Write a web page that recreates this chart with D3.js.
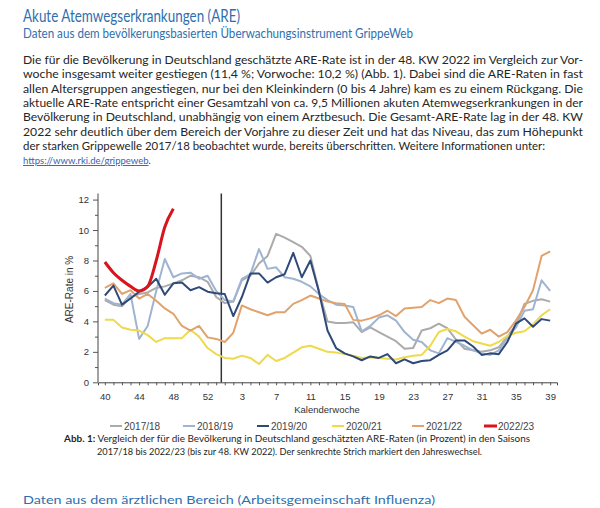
<!DOCTYPE html>
<html>
<head>
<meta charset="utf-8">
<script src="https://cdn.jsdelivr.net/npm/d3@7"></script>
<style>
  body { margin: 0; background: #fff; }
  svg { display: block; }
</style>
</head>
<body>
<div id="run"></div>
<script>
var width = 600,
    height = 508;

// Kalenderwochen 40..53, 1..39
var weeks = [40, 41, 42, 43, 44, 45, 46, 47, 48, 49, 50, 51, 52, 53,
  1, 2, 3, 4, 5, 6, 7, 8, 9, 10, 11, 12, 13, 14, 15, 16, 17, 18, 19, 20,
  21, 22, 23, 24, 25, 26, 27, 28, 29, 30, 31, 32, 33, 34, 35, 36, 37, 38, 39];

var tickWeeks = [40, 44, 48, 52, 3, 7, 11, 15, 19, 23, 27, 31, 35, 39];
var yTicks = [0, 2, 4, 6, 8, 10, 12];

var s1718 = [5.4, 5.1, 5.0, 5.6, 5.8, 5.9, 6.2, 6.3, 6.5, 6.7, 7.0, 6.9, 6.6, 5.6,
  5.2, 5.3, 6.7, 7.0, 7.8, 8.3, 9.75, 9.5, 9.2, 8.9, 8.3, 6.0, 4.0, 3.9, 3.9, 3.95,
  3.3, 3.6, 3.3, 3.0, 2.7, 2.2, 2.25, 3.4, 3.55, 3.85, 3.55, 2.8, 2.2, 2.1, 2.0,
  2.1, 2.3, 3.0, 3.75, 5.15, 5.35, 5.45, 5.3];
var s1819 = [5.5, 5.2, 5.1, 5.8, 2.85, 3.7, 6.0, 8.1, 6.9, 7.15, 7.2, 6.8, 7.0, 6.0,
  5.4, 5.3, 6.8, 7.1, 8.75, 7.45, 7.55, 6.9, 6.8, 6.6, 6.3, 5.8, 5.4, 5.1, 5.05, 4.95,
  3.35, 3.7, 4.25, 4.4, 4.05, 3.3, 2.8, 2.65, 2.1, 1.9, 2.9, 2.65, 2.4, 2.1, 1.9,
  1.8, 2.1, 2.9, 3.6, 4.7, 4.8, 6.7, 6.0];
var s1920 = [5.7, 6.35, 5.1, 5.5, 5.95, 6.25, 6.8, 5.75, 6.5, 6.55, 6.05, 6.25, 5.95, 5.85,
  5.8, 4.35, 5.6, 7.15, 7.15, 6.55, 6.9, 7.1, 8.5, 6.9, 8.0, 5.95, 3.4, 2.25, 1.9, 1.7,
  1.45, 1.7, 1.6, 1.85, 1.25, 1.5, 1.25, 1.4, 1.45, 1.8, 2.1, 2.75, 2.75, 2.35, 1.8,
  1.9, 1.85, 2.65, 3.85, 4.2, 3.65, 4.15, 4.05];
var s2021 = [4.1, 4.1, 3.6, 3.45, 3.4, 3.1, 2.65, 2.9, 2.9, 2.9, 3.45, 3.0, 2.25, 1.85,
  1.6, 1.55, 1.75, 1.6, 1.2, 1.8, 1.4, 1.6, 1.95, 2.3, 2.4, 2.2, 2.0, 1.95, 1.85, 1.75,
  1.6, 1.65, 1.6, 1.55, 1.5, 1.65, 1.75, 1.8, 2.4, 3.3, 3.5, 3.35, 3.0, 2.7, 2.55,
  2.4, 2.65, 3.05, 3.25, 3.35, 3.8, 4.4, 4.8];
var s2122 = [6.2, 6.5, 5.8, 6.05, 5.5, 5.8, 5.35, 4.85, 4.5, 3.7, 3.4, 3.7, 2.95, 2.85,
  2.65, 3.25, 5.05, 4.8, 4.6, 4.4, 4.6, 4.6, 5.15, 5.4, 5.7, 5.5, 5.3, 5.2, 5.15, 4.1,
  4.05, 4.2, 4.4, 4.7, 4.35, 4.85, 4.9, 4.95, 5.4, 5.2, 5.5, 5.4, 4.3, 3.75, 3.2,
  3.45, 3.0, 3.3, 4.05, 4.95, 6.05, 8.3, 8.6];
var s2223 = [7.9, 7.2, 6.7, 6.3, 6.0, 6.3, 8.0, 10.2, 11.4];

var seasons = ["2017/18", "2018/19", "2019/20", "2020/21", "2021/22", "2022/23"];
var colors = ["#ababab", "#9fb4d2", "#2f4a78", "#efd94c", "#e2a26c", "#d8141c"];

var series = [
  { name: seasons[0], values: s1718, color: colors[0], w: 2 },
  { name: seasons[1], values: s1819, color: colors[1], w: 2 },
  { name: seasons[3], values: s2021, color: colors[3], w: 2 },
  { name: seasons[4], values: s2122, color: colors[4], w: 2 },
  { name: seasons[2], values: s1920, color: colors[2], w: 2 },
  { name: seasons[5], values: s2223, color: colors[5], w: 3, smooth: true }
];

var svg = d3.select("#run").append("svg")
    .attr("width", width)
    .attr("height", height);

var blue = "#2f6fae",
    textCol = "#262626",
    bodyFont = "Lato, 'Open Sans', sans-serif",
    chartFont = "'Liberation Sans', Arial, sans-serif";

// fit a text element to a given width
function fitText(sel, len) {
  sel.attr("textLength", len).attr("lengthAdjust", "spacingAndGlyphs");
}

// heading
svg.append("text").attr("x", 23).attr("y", 22)
    .style("font-family", bodyFont).style("font-size", "17px").style("fill", blue)
    .text("Akute Atemwegserkrankungen (ARE)").call(fitText, 217);
svg.append("text").attr("x", 23).attr("y", 38)
    .style("font-family", bodyFont).style("font-size", "13px").style("fill", blue)
    .text("Daten aus dem bevölkerungsbasierten Überwachungsinstrument GrippeWeb").call(fitText, 390);

var para = [
  "Die für die Bevölkerung in Deutschland geschätzte ARE-Rate ist in der 48. KW 2022 im Vergleich zur Vor-",
  "woche insgesamt weiter gestiegen (11,4 %; Vorwoche: 10,2 %) (Abb. 1). Dabei sind die ARE-Raten in fast",
  "allen Altersgruppen angestiegen, nur bei den Kleinkindern (0 bis 4 Jahre) kam es zu einem Rückgang. Die",
  "aktuelle ARE-Rate entspricht einer Gesamtzahl von ca. 9,5 Millionen akuten Atemwegserkrankungen in der",
  "Bevölkerung in Deutschland, unabhängig von einem Arztbesuch. Die Gesamt-ARE-Rate lag in der 48. KW",
  "2022 sehr deutlich über dem Bereich der Vorjahre zu dieser Zeit und hat das Niveau, das zum Höhepunkt",
  "der starken Grippewelle 2017/18 beobachtet wurde, bereits überschritten. Weitere Informationen unter:"
];
var paraLen = [560, 560, 560, 560, 560, 560, 522];

para.forEach(function(line, i) {
  svg.append("text").attr("x", 23).attr("y", 64 + i * 14.3)
      .style("font-family", bodyFont).style("font-size", "12px").style("fill", textCol)
      .text(line).call(fitText, paraLen[i]);
});

var link = svg.append("text").attr("x", 23).attr("y", 164)
    .style("font-family", bodyFont).style("font-size", "9.5px");
link.append("tspan").style("fill", "#3a5fb0").style("text-decoration", "underline")
    .text("https://www.rki.de/grippeweb");
link.append("tspan").style("fill", textCol).text(".");

// chart
var x = d3.scaleLinear().domain([-0.8, 52.8]).range([98, 557]);
var y = d3.scaleLinear().domain([0, 12.4]).range([382.3, 193.5]);

var idx = d3.range(weeks.length);

var xAxis = d3.axisBottom(x)
    .tickValues(idx)
    .tickSize(3)
    .tickFormat("");
svg.append("g").attr("transform", "translate(0," + y(0) + ")")
    .call(xAxis)
    .call(function(g) {
      g.select(".domain").attr("stroke", "#444");
      g.selectAll(".tick line").attr("stroke", "#555");
    });

var xLabels = d3.axisBottom(x)
    .tickValues(idx.filter(function(i) { return tickWeeks.indexOf(weeks[i]) >= 0; }))
    .tickSize(0)
    .tickPadding(11)
    .tickFormat(function(i) { return weeks[i]; });
svg.append("g").attr("transform", "translate(0," + y(0) + ")")
    .call(xLabels)
    .call(function(g) {
      g.select(".domain").remove();
      g.selectAll("text").style("font-family", chartFont).style("font-size", "9.5px").style("fill", "#333");
    });

var yMinor = d3.axisLeft(y).tickValues(d3.range(1, 13, 2)).tickSize(3).tickFormat("");
svg.append("g").attr("transform", "translate(" + x(-0.8) + ",0)")
    .call(yMinor)
    .call(function(g) {
      g.select(".domain").remove();
      g.selectAll(".tick line").attr("stroke", "#555");
    });

var yAxis = d3.axisLeft(y).tickValues(yTicks).tickSize(5).tickPadding(4);
svg.append("g").attr("transform", "translate(" + x(-0.8) + ",0)")
    .call(yAxis)
    .call(function(g) {
      g.select(".domain").attr("stroke", "#444").attr("d", "M0," + y(12.4) + "V" + y(0));
      g.selectAll(".tick line").attr("stroke", "#555");
      g.selectAll("text").style("font-family", chartFont).style("font-size", "9.5px").style("fill", "#333");
    });

svg.append("text")
    .attr("transform", "translate(73," + y(6.1) + ") rotate(-90)")
    .attr("text-anchor", "middle")
    .style("font-family", chartFont).style("font-size", "10px").style("fill", "#333")
    .text("ARE-Rate in %");

svg.append("text")
    .attr("x", 327).attr("y", 413)
    .attr("text-anchor", "middle")
    .style("font-family", chartFont).style("font-size", "9.5px").style("fill", "#333")
    .text("Kalenderwoche");

// Jahreswechsel
svg.append("line")
    .attr("x1", x(13.6)).attr("x2", x(13.6))
    .attr("y1", y(12.4)).attr("y2", y(0))
    .attr("stroke", "#333").attr("stroke-width", 1.5);

var line = d3.line()
    .x(function(d, i) { return x(i); })
    .y(function(d) { return y(d); });

series.forEach(function(s) {
  svg.append("path")
      .datum(s.values)
      .attr("fill", "none")
      .attr("stroke", s.color)
      .attr("stroke-width", s.w)
      .attr("stroke-linejoin", "round")
      .attr("d", line.curve(s.smooth ? d3.curveMonotoneX : d3.curveLinear));
});

// legend
var legX = [110, 183, 257, 332, 412, 484];
seasons.forEach(function(name, i) {
  var g = svg.append("g").attr("transform", "translate(" + legX[i] + ",426)");
  g.append("line").attr("x1", 0).attr("x2", i == 5 ? 13 : 12)
      .attr("stroke", colors[i]).attr("stroke-width", i == 5 ? 3 : 2);
  g.append("text").attr("x", 14).attr("y", 3.5)
      .style("font-family", chartFont).style("font-size", "10px").style("fill", "#444")
      .text(name);
});

// caption
var cap = svg.append("text").attr("x", 64).attr("y", 442)
    .style("font-family", bodyFont).style("font-size", "10px").style("fill", textCol);
cap.append("tspan").style("font-weight", "bold").text("Abb. 1:");
cap.append("tspan").text(" Vergleich der für die Bevölkerung in Deutschland geschätzten ARE-Raten (in Prozent) in den Saisons");
cap.call(fitText, 466);

svg.append("text").attr("x", 97).attr("y", 455)
    .style("font-family", bodyFont).style("font-size", "10px").style("fill", textCol)
    .text("2017/18 bis 2022/23 (bis zur 48. KW 2022). Der senkrechte Strich markiert den Jahreswechsel.")
    .call(fitText, 385);

// next heading at the bottom of the page
svg.append("text").attr("x", 23).attr("y", 504)
    .style("font-family", bodyFont).style("font-size", "12px").style("fill", blue)
    .text("Daten aus dem ärztlichen Bereich (Arbeitsgemeinschaft Influenza)").call(fitText, 412);
</script>
</body>
</html>
